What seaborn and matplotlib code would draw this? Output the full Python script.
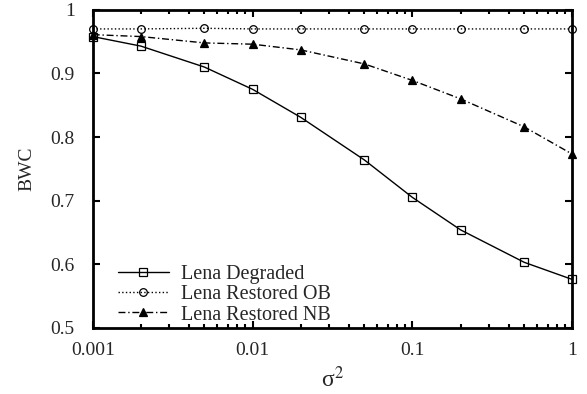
import numpy as np
import pandas as pd
import seaborn as sns
import matplotlib.pyplot as plt
from matplotlib.ticker import LogLocator, NullFormatter

sigma2 = [0.001, 0.002, 0.005, 0.01, 0.02, 0.05, 0.1, 0.2, 0.5, 1]
degraded = [0.958, 0.943, 0.910, 0.875, 0.831, 0.764, 0.705, 0.654, 0.603, 0.576]
restored_ob = [0.970, 0.970, 0.971, 0.970, 0.970, 0.970, 0.970, 0.970, 0.970, 0.970]
restored_nb = [0.961, 0.958, 0.948, 0.946, 0.937, 0.915, 0.889, 0.860, 0.816, 0.773]
series = ['Lena Degraded', 'Lena Restored OB', 'Lena Restored NB']

df = pd.DataFrame({'sigma2': sigma2 * 3,
                   'bwc': degraded + restored_ob + restored_nb,
                   'series': np.repeat(series, len(sigma2))})

sns.set_style('ticks')
plt.rcParams['font.family'] = ['Liberation Serif', 'DejaVu Serif']
plt.rcParams['mathtext.fontset'] = 'stix'

fig, ax = plt.subplots(figsize=(5.87, 3.94), dpi=100)
fig.subplots_adjust(left=0.158, right=0.975, top=0.975, bottom=0.168)

styles = {'Lena Degraded': ('-', 's'),
          'Lena Restored OB': (':', 'o'),
          'Lena Restored NB': ((0, (5, 2, 1, 2)), '^')}
for name in series:
    ls, mk = styles[name]
    sns.lineplot(data=df[df.series == name], x='sigma2', y='bwc', ax=ax,
                 color='black', lw=1.0, linestyle=ls, marker=mk, markersize=5.5,
                 markerfacecolor='none' if mk != '^' else 'black',
                 markeredgecolor='black', markeredgewidth=0.9, label=name,
                 clip_on=False, zorder=3)

ax.set_xscale('log')
ax.set_xlim(0.001, 1)
ax.set_ylim(0.5, 1)
ax.set_xticks([0.001, 0.01, 0.1, 1])
ax.set_xticklabels(['0.001', '0.01', '0.1', '1'])
ax.xaxis.set_minor_locator(LogLocator(base=10, subs=np.arange(2, 10)))
ax.xaxis.set_minor_formatter(NullFormatter())
ax.set_yticks([0.5, 0.6, 0.7, 0.8, 0.9, 1.0])
ax.set_yticklabels(['0.5', '0.6', '0.7', '0.8', '0.9', '1'])
ax.tick_params(which='both', direction='in', top=True, right=True, labelsize=14,
               width=1.5, color='black')
ax.tick_params(axis='x', which='major', length=5, pad=10)
ax.tick_params(axis='y', which='major', length=5, pad=13)
ax.tick_params(which='minor', length=3)
for sp in ax.spines.values():
    sp.set_linewidth(2)
    sp.set_visible(True)
    sp.set_color('black')
    sp.set_zorder(5)
ax.set_xlabel('σ$^{2}$', fontsize=17, labelpad=6)
ax.set_ylabel('BWC', fontsize=14, labelpad=11)

ax.legend(loc='lower left', frameon=False, fontsize=14.5, handlelength=2.55,
          handletextpad=0.6, borderaxespad=0.0, labelspacing=0.05,
          bbox_to_anchor=(0.035, -0.015))

fig.savefig('out.png', dpi=100)
